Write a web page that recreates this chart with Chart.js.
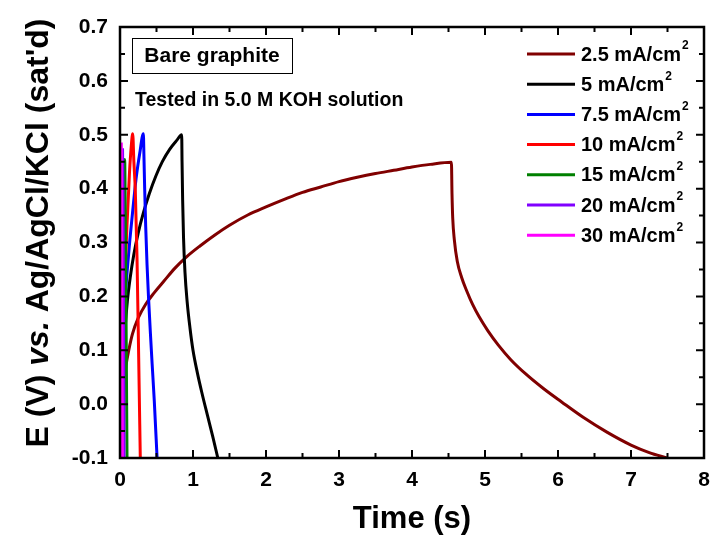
<!DOCTYPE html>
<html>
<head>
<title>Bare graphite charge/discharge</title>
<script src="https://cdn.jsdelivr.net/npm/chart.js"></script>
<style>
  body { margin: 0; background: #fff; }
  #wrap { width: 711px; height: 538px; }
</style>
</head>
<body>
<div id="wrap"><canvas id="gcd" width="711" height="538"></canvas></div>
<script>
  // time (s) / potential (V) pairs, one set per current density
  const t25 = [0, 0.01, 0.025, 0.05, 0.08, 0.12, 0.17, 0.25, 0.35, 0.47, 0.6, 0.75, 0.9, 1.1, 1.3, 1.5, 1.75, 2.0, 2.25, 2.5, 2.75, 3.0, 3.25, 3.5, 3.75, 4.0, 4.25, 4.54,
               4.548, 4.558, 4.58, 4.62, 4.68, 4.75, 4.83, 4.92, 5.04, 5.18, 5.35, 5.55, 5.8, 6.05, 6.35, 6.67, 7.0, 7.25, 7.49];
  const e25 = [-0.1, -0.05, -0.01, 0.035, 0.07, 0.1, 0.13, 0.16, 0.185, 0.207, 0.228, 0.252, 0.272, 0.294, 0.314, 0.332, 0.351, 0.366, 0.38, 0.393, 0.403, 0.413, 0.421, 0.428, 0.434, 0.44, 0.445, 0.449,
               0.39, 0.345, 0.305, 0.265, 0.235, 0.21, 0.185, 0.162, 0.136, 0.11, 0.083, 0.057, 0.029, 0.004, -0.025, -0.052, -0.076, -0.09, -0.1];

  const t5 = [0, 0.01, 0.025, 0.045, 0.07, 0.1, 0.14, 0.19, 0.25, 0.32, 0.4, 0.49, 0.58, 0.68, 0.78, 0.845,
              0.85, 0.858, 0.87, 0.89, 0.92, 0.96, 1.0, 1.06, 1.12, 1.2, 1.27, 1.34];
  const e5 = [-0.1, -0.02, 0.03, 0.085, 0.14, 0.19, 0.235, 0.278, 0.318, 0.355, 0.39, 0.423, 0.45, 0.473, 0.49, 0.5,
              0.45, 0.38, 0.31, 0.245, 0.19, 0.14, 0.1, 0.058, 0.022, -0.022, -0.06, -0.1];

  const t75 = [0, 0.01, 0.025, 0.045, 0.07, 0.1, 0.135, 0.175, 0.22, 0.27, 0.32,
               0.328, 0.338, 0.352, 0.37, 0.39, 0.415, 0.44, 0.47, 0.508];
  const e75 = [-0.1, -0.02, 0.06, 0.13, 0.195, 0.25, 0.305, 0.36, 0.418, 0.465, 0.502,
               0.46, 0.4, 0.33, 0.26, 0.2, 0.135, 0.075, 0.005, -0.1];

  const t10 = [0, 0.02, 0.045, 0.07, 0.096, 0.13, 0.155, 0.174, 0.19, 0.21, 0.233, 0.256, 0.278];
  const e10 = [-0.1, 0.05, 0.15, 0.24, 0.333, 0.43, 0.48, 0.502, 0.45, 0.395, 0.272, 0.086, -0.1];

  const t15 = [0, 0.015, 0.035, 0.064, 0.072, 0.085, 0.096];
  const e15 = [-0.1, 0.1, 0.3, 0.454, 0.36, 0.12, -0.1];

  const t20 = [0, 0.008, 0.02, 0.035, 0.041, 0.048, 0.055];
  const e20 = [-0.1, 0.12, 0.34, 0.472, 0.38, 0.15, -0.1];

  const t30 = [0, 0.004, 0.01, 0.018, 0.022, 0.027, 0.033];
  const e30 = [-0.1, 0.15, 0.38, 0.483, 0.4, 0.15, -0.1];

  const seriesLabels = ['2.5 mA/cm²', '5 mA/cm²', '7.5 mA/cm²', '10 mA/cm²', '15 mA/cm²', '20 mA/cm²', '30 mA/cm²'];
  const seriesColors = ['#800000', '#000000', '#0000ff', '#ff0000', '#008000', '#8000ff', '#ff00ff'];

  const xTicks = [0, 1, 2, 3, 4, 5, 6, 7, 8];
  const yTicks = ['-0.1', '0.0', '0.1', '0.2', '0.3', '0.4', '0.5', '0.6', '0.7'];

  const FONT = '"Liberation Sans", Arial, sans-serif';

  const times = [t25, t5, t75, t10, t15, t20, t30];
  const volts = [e25, e5, e75, e10, e15, e20, e30];

  const datasets = seriesLabels.map((lab, i) => ({
    label: lab,
    data: times[i].map((t, k) => ({ x: t, y: volts[i][k] })),
    borderColor: seriesColors[i],
    backgroundColor: seriesColors[i],
    borderWidth: 3,
    pointRadius: 0,
    fill: false,
    cubicInterpolationMode: 'monotone',
    order: seriesLabels.length - i   // later series on top
  }));

  // frame, inward ticks, titles, annotations and legend
  const decor = {
    id: 'decor',
    afterDraw(chart) {
      const c = chart.ctx;
      const a = chart.chartArea;
      const xs = chart.scales.x, ys = chart.scales.y;
      c.save();
      c.strokeStyle = '#000';
      c.lineWidth = 2.5;
      c.strokeRect(a.left, a.top, a.right - a.left, a.bottom - a.top);

      c.lineWidth = 2;
      c.beginPath();
      for (let v = 0; v <= 8.001; v += 0.5) {
        const px = xs.getPixelForValue(v);
        const len = Math.abs(v - Math.round(v)) < 0.01 ? 8 : 5;
        c.moveTo(px, a.bottom); c.lineTo(px, a.bottom - len);
        c.moveTo(px, a.top); c.lineTo(px, a.top + len);
      }
      for (let k = 0; k <= 16; k++) {
        const v = -0.1 + k * 0.05;
        const py = ys.getPixelForValue(v);
        const len = k % 2 === 0 ? 8 : 5;
        c.moveTo(a.left, py); c.lineTo(a.left + len, py);
        c.moveTo(a.right, py); c.lineTo(a.right - len, py);
      }
      c.stroke();

      c.fillStyle = '#000';
      // x title
      c.font = 'bold 31px ' + FONT;
      c.textAlign = 'center';
      c.textBaseline = 'middle';
      c.fillText('Time (s)', (a.left + a.right) / 2, 519);

      // y title with italic "vs."
      const parts = [['E (V) ', 'bold 32px '], ['vs.', 'italic bold 32px '], [' Ag/AgCl/KCl (sat\'d)', 'bold 32px ']];
      let total = 0;
      parts.forEach(p => { c.font = p[1] + FONT; total += c.measureText(p[0]).width; });
      c.save();
      c.translate(48, 233);
      c.rotate(-Math.PI / 2);
      c.textAlign = 'left';
      c.textBaseline = 'alphabetic';
      let x0 = -total / 2;
      parts.forEach(p => { c.font = p[1] + FONT; c.fillText(p[0], x0, 0); x0 += c.measureText(p[0]).width; });
      c.restore();

      // sample box
      c.lineWidth = 1;
      c.strokeRect(132.5, 38.5, 160, 35);
      c.font = 'bold 21px ' + FONT;
      c.textAlign = 'center';
      c.textBaseline = 'middle';
      c.fillText('Bare graphite', 212, 56);
      c.font = 'bold 19.5px ' + FONT;
      c.textAlign = 'left';
      c.fillText('Tested in 5.0 M KOH solution', 135, 101);

      // legend
      chart.data.datasets.forEach((ds, i) => {
        const y = 54 + i * 30.2;
        c.strokeStyle = ds.borderColor;
        c.lineWidth = 3;
        c.beginPath(); c.moveTo(527, y); c.lineTo(575, y); c.stroke();
        const [main] = ds.label.split('²');
        c.fillStyle = '#000';
        c.font = 'bold 20px ' + FONT;
        c.textAlign = 'left';
        c.fillText(main, 581, y + 1);
        const w = c.measureText(main).width;
        c.font = 'bold 12px ' + FONT;
        c.fillText('2', 581 + w + 1, y - 8);
      });
      c.restore();
    }
  };

  new Chart(document.getElementById('gcd').getContext('2d'), {
    type: 'line',
    data: { datasets },
    options: {
      responsive: false,
      animation: false,
      layout: { padding: { top: 27, right: 7, left: 0, bottom: 0 } },
      plugins: { legend: { display: false }, tooltip: { enabled: false } },
      scales: {
        x: {
          type: 'linear', min: 0, max: 8,
          afterFit: s => { s.height = 80; s.paddingLeft = 0; s.paddingRight = 0; },
          afterBuildTicks: s => { s.ticks = xTicks.map(v => ({ value: v })); },
          grid: { display: false, drawTicks: false },
          border: { display: false },
          ticks: { color: '#000', padding: 10, font: { family: FONT, size: 21, weight: 'bold' }, callback: v => String(v) }
        },
        y: {
          type: 'linear', min: -0.1, max: 0.7,
          afterFit: s => { s.width = 120; s.paddingTop = 0; s.paddingBottom = 0; },
          afterBuildTicks: s => { s.ticks = yTicks.map(v => ({ value: parseFloat(v) })); },
          grid: { display: false, drawTicks: false },
          border: { display: false },
          ticks: { color: '#000', padding: 12, font: { family: FONT, size: 21, weight: 'bold' },
                   callback: (v, i) => yTicks[i] }
        }
      }
    },
    plugins: [decor]
  });
</script>
</body>
</html>
